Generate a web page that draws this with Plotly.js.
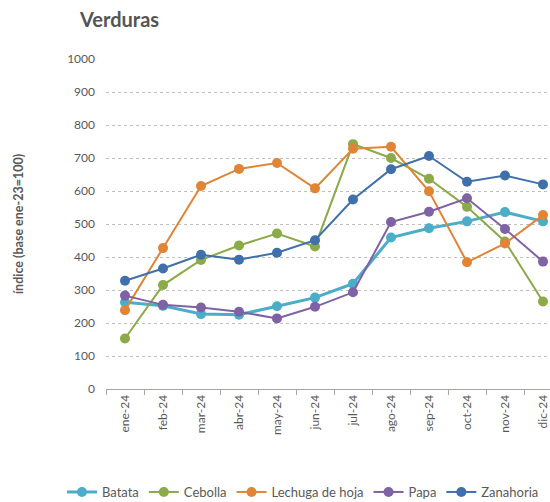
<!DOCTYPE html>
<html>
<head>
<meta charset="utf-8">
<script src="https://cdn.plot.ly/plotly-3.0.1.min.js"></script>
<style>
html,body{margin:0;padding:0;overflow:hidden;background:#fff;}
#chart{width:640px;height:530px;}
</style>
</head>
<body>
<div id="chart"></div>
<script>
const months = ["ene-24","feb-24","mar-24","abr-24","may-24","jun-24","jul-24","ago-24","sep-24","oct-24","nov-24","dic-24"];
const batata    = [263, 252, 227, 225, 251, 277, 319, 459, 487, 508, 536, 508];
const cebolla   = [153, 315, 391, 435, 471, 432, 742, 700, 637, 552, 447, 265];
const lechuga   = [239, 427, 615, 667, 685, 608, 728, 734, 599, 384, 441, 527];
const papa      = [283, 255, 247, 234, 214, 249, 293, 506, 537, 578, 485, 386];
const zanahoria = [328, 365, 407, 392, 413, 451, 574, 666, 706, 628, 647, 620];
const seriesNames = ["Batata","Cebolla","Lechuga de hoja","Papa","Zanahoria"];

const colors = ["#4BADC8","#8BAA48","#E08536","#7F61A5","#4070AB"];
const widths = [3, 2, 2, 2, 2];
const data = [batata, cebolla, lechuga, papa, zanahoria];

const traces = data.map((vals, i) => ({
  type: "scatter",
  mode: "lines+markers",
  name: seriesNames[i],
  x: months,
  y: vals,
  line: {color: colors[i], width: widths[i]},
  marker: {color: colors[i], size: 10}
}));

const W = 640, H = 530;
const PL = 106, PR = 562, PT = 59, PB = 389;
const font = "Lato, 'Open Sans', sans-serif";
const layout = {
  width: W,
  height: H,
  margin: {l: PL, r: W - PR, t: PT, b: H - PB},
  paper_bgcolor: "#fff",
  plot_bgcolor: "#fff",
  font: {family: font, color: "#595959", size: 12},
  title: {
    text: "<b>Verduras</b>",
    font: {family: font, size: 20, color: "#555555"},
    xref: "container", x: 80/W, xanchor: "left",
    yref: "container", y: 1 - 20/H, yanchor: "middle"
  },
  showlegend: true,
  legend: {
    orientation: "h",
    x: (62 - PL)/(PR - PL), xref: "paper", xanchor: "left",
    y: -(492 - PB)/(PB - PT), yref: "paper", yanchor: "middle",
    font: {family: font, size: 13, color: "#595959"},
    itemwidth: 30,
    traceorder: "normal"
  },
  xaxis: {
    type: "category",
    range: [-0.5, 11.5],
    showline: true,
    linecolor: "#A6A6A6",
    linewidth: 1,
    ticks: "outside",
    tickson: "boundaries",
    ticklen: 5,
    tickcolor: "#A6A6A6",
    tickangle: -90,
    showgrid: false,
    zeroline: false,
    tickfont: {family: font, size: 12, color: "#595959"}
  },
  yaxis: {
    range: [0, 1000],
    dtick: 100,
    tick0: 0,
    showgrid: true,
    gridcolor: "#BFBFBF",
    griddash: "dot",
    gridwidth: 1,
    zeroline: false,
    showline: false,
    ticks: "",
    ticklabelstandoff: 10,
    tickfont: {family: font, size: 12, color: "#595959"},
    title: {
      text: "<b>índice (base ene-23=100)</b>",
      font: {family: font, size: 12.5, color: "#595959"},
      standoff: 40
    }
  }
};

Plotly.newPlot("chart", traces, layout, {displayModeBar: false, staticPlot: true});
</script>
</body>
</html>
